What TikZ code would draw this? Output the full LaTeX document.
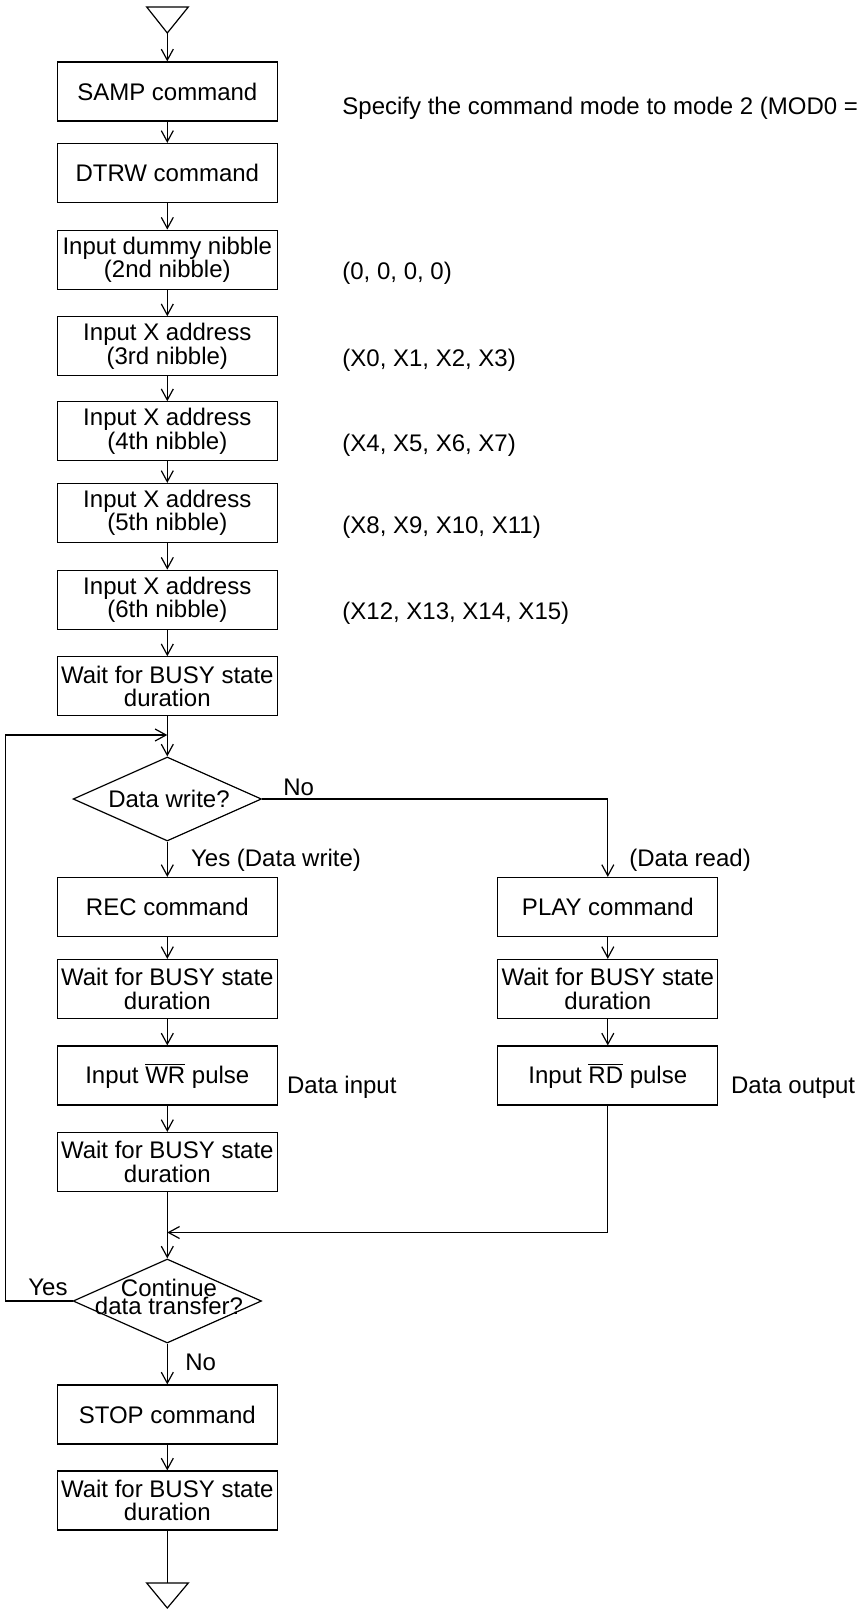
\documentclass[tikz,border=0pt]{standalone}
\usepackage{fontspec}
\setmainfont{Liberation Sans}
\usetikzlibrary{arrows.meta,shapes.geometric}
\begin{document}
\begin{tikzpicture}[x=0.5pt,y=-0.5pt,
  every node/.style={font=\fontsize{12pt}{11.7pt}\selectfont},
  box/.style={draw, line width=0.6pt, minimum width=110pt, minimum height=29.5pt, inner sep=0pt, align=center},
  dec/.style={draw, line width=0.6pt, diamond, minimum width=94.2pt, minimum height=42pt, inner sep=0pt},
  dtext/.style={anchor=base, inner sep=0pt, align=center},
  lbl/.style={anchor=base west, inner sep=0pt},
  flow/.style={line width=0.6pt},
  arr/.style={flow, -{Straight Barb[length=5.5pt,width=6pt]}},
]
\useasboundingbox (0,0) rectangle (856,1609);
\clip (0,0) rectangle (856,1609);

% terminals
\draw[flow] (146.7,7) -- (188.3,7) -- (167.3,33) -- cycle;
\coordinate (tin) at (167.3,33);
\draw[flow] (146.7,1583) -- (188.3,1583) -- (167.3,1608) -- cycle;
\coordinate (tout) at (167.3,1583);

% main column
\node[box] (samp)  at (167.3,91.5)  {SAMP command};
\node[box] (dtrw)  at (167.3,173)   {DTRW command};
\node[box] (dummy) at (167.3,259.7) {Input dummy nibble\\(2nd nibble)};
\node[box] (xa)    at (167.3,346.3) {Input X address\\(3rd nibble)};
\node[box] (xb)    at (167.3,431.3) {Input X address\\(4th nibble)};
\node[box] (xc)    at (167.3,513)   {Input X address\\(5th nibble)};
\node[box] (xd)    at (167.3,599.7) {Input X address\\(6th nibble)};
\node[box] (w1)    at (167.3,686.3) {Wait for BUSY state\\duration};
\node[dec] (dw)    at (167.3,799) {};
\node[dtext] (dwt) at (169,807) {Data write?};
\node[box] (rec)   at (167.3,907)   {REC command};
\node[box] (w2)    at (167.3,989)   {Wait for BUSY state\\duration};
\node[box] (wr)    at (167.3,1075.5) {Input $\overline{\mbox{WR}}$ pulse};
\node[box] (w3)    at (167.3,1162)  {Wait for BUSY state\\duration};
\node[dec] (ct)    at (167.3,1301) {};
\node[dtext, font=\fontsize{12pt}{9pt}\selectfont] (ctt) at (169,1314) {Continue\\data transfer?};
\node[box] (stop)  at (167.3,1414.5) {STOP command};
\node[box] (w4)    at (167.3,1500.5) {Wait for BUSY state\\duration};

% right column
\node[box] (play) at (607.8,907)    {PLAY command};
\node[box] (w5)   at (607.8,989)    {Wait for BUSY state\\duration};
\node[box] (rd)   at (607.8,1075.5) {Input $\overline{\mbox{RD}}$ pulse};

% connectors
\draw[arr] (tin) -- (samp);
\draw[arr] (samp) -- (dtrw);
\draw[arr] (dtrw) -- (dummy);
\draw[arr] (dummy) -- (xa);
\draw[arr] (xa) -- (xb);
\draw[arr] (xb) -- (xc);
\draw[arr] (xc) -- (xd);
\draw[arr] (xd) -- (w1);
\draw[arr] (w1) -- (dw);
\draw[arr] (dw) -- (rec);
\draw[arr] (dw.east) -| (play.north);
\draw[arr] (rec) -- (w2);
\draw[arr] (w2) -- (wr);
\draw[arr] (wr) -- (w3);
\draw[arr] (w3) -- (ct);
\draw[arr] (play) -- (w5);
\draw[arr] (w5) -- (rd);
\coordinate (mrg) at (167.3,1232.5);
\draw[arr] (rd.south) |- (mrg);
\coordinate (loopin) at (167.3,735);
\coordinate (loopl) at (5.5,735);
\draw[arr] (ct.west) -- (ct.west -| loopl) -- (loopl) -- (loopin);
\draw[arr] (ct) -- (stop);
\draw[arr] (stop) -- (w4);
\draw[flow] (w4) -- (tout);

% labels
\node[lbl] (no1)  at (283,795)    {No};
\node[lbl] (yes1) at (190.7,866.5) {Yes (Data write)};
\node[lbl] (drd)  at (629,866.5)   {(Data read)};
\node[lbl] (din)  at (286.7,1093.3) {Data input};
\node[lbl] (dout) at (730.7,1093.3) {Data output};
\node[lbl] (yes2) at (28,1295.7)  {Yes};
\node[lbl] (no2)  at (185,1370)   {No};
\node[lbl] (spec) at (342,115)    {Specify the command mode to mode 2 (MOD0 =};
\node[lbl] (c2)   at (342,279.7)  {(0, 0, 0, 0)};
\node[lbl] (c3)   at (342,366.3)  {(X0, X1, X2, X3)};
\node[lbl] (c4)   at (342,451.3)  {(X4, X5, X6, X7)};
\node[lbl] (c5)   at (342,533)    {(X8, X9, X10, X11)};
\node[lbl] (c6)   at (342,619.7)  {(X12, X13, X14, X15)};
\end{tikzpicture}
\end{document}
